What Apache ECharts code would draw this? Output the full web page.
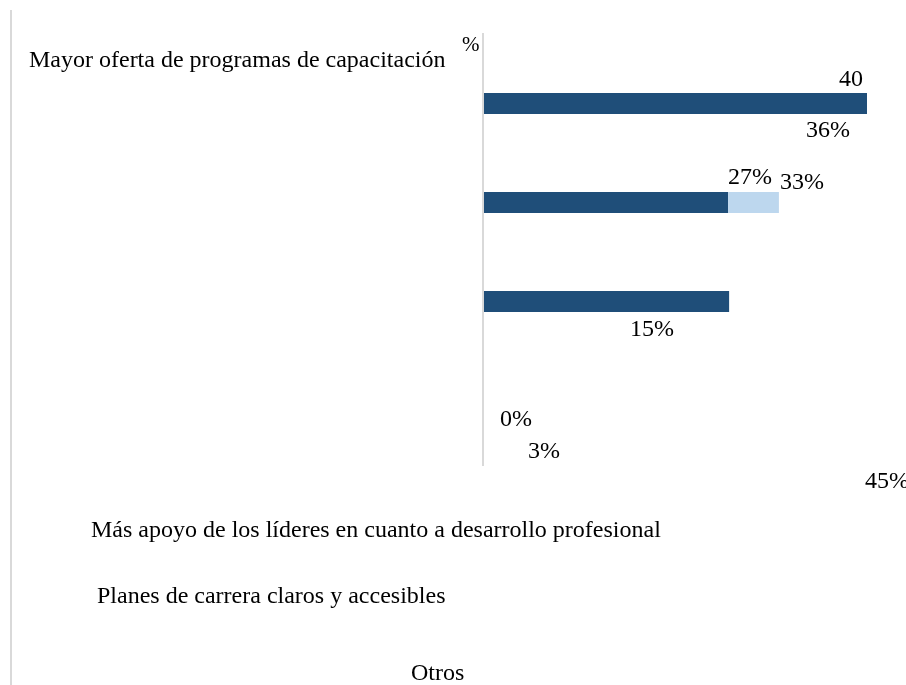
<!DOCTYPE html>
<html>
<head>
<meta charset="utf-8">
<script src="https://cdn.jsdelivr.net/npm/echarts@6/dist/echarts.min.js"></script>
<style>
  html, body { margin: 0; padding: 0; background: #fff; }
  #chart { width: 906px; height: 685px; }
</style>
</head>
<body>
<div id="chart"></div>
<script>
var categories = [
  "Mayor oferta de programas de capacitación",
  "Más apoyo de los líderes en cuanto a desarrollo profesional",
  "Planes de carrera claros y accesibles",
  "Otros",
];
// bar lengths (axis 0..40)
var darkValues = [40, 25.5, 25.6, 0];
var lightValues = [0, 5.3, 0, 0];
// loose texts as they appear in the picture
var stray = ["%", "40", "36%", "27%", "33%", "15%", "0%", "3%", "45%"];

var font = "Liberation Serif";
var chart = echarts.init(document.getElementById("chart"));

function txt(s, x, y, size) {
  return {
    type: "text",
    left: x,
    top: y,
    style: {
      text: s,
      fill: "#000",
      font: (size || 24) + "px '" + font + "'",
    },
  };
}

var option = {
  animation: false,
  grid: {
    left: 484,
    right: 39,
    top: 54,
    height: 396,
  },
  xAxis: {
    type: "value",
    min: 0,
    max: 40,
    show: false,
  },
  yAxis: {
    type: "category",
    inverse: true,
    data: categories,
    axisLine: { show: false },
    axisTick: { show: false },
    axisLabel: { show: false },
  },
  series: [
    {
      name: "dark",
      type: "bar",
      stack: "a",
      barWidth: 21,
      itemStyle: { color: "#1F4E79" },
      data: darkValues,
    },
    {
      name: "light",
      type: "bar",
      stack: "a",
      barWidth: 21,
      itemStyle: { color: "#BDD7EE" },
      data: lightValues,
    },
  ],
  graphic: [
    // frame line on the left and the category axis line
    {
      type: "line",
      shape: { x1: 11, y1: 10, x2: 11, y2: 685 },
      style: { stroke: "#d9d9d9", lineWidth: 2 },
    },
    {
      type: "line",
      shape: { x1: 483, y1: 33, x2: 483, y2: 466 },
      style: { stroke: "#d9d9d9", lineWidth: 2 },
    },
    // category names, scattered like in the picture
    txt(categories[0], 29, 49),
    txt(categories[1], 91, 519),
    txt(categories[2], 97, 585),
    txt(categories[3], 411, 662),
    // value texts
    txt(stray[0], 462, 35, 21),
    txt(stray[1], 839, 68),
    txt(stray[2], 806, 119),
    txt(stray[3], 728, 166),
    txt(stray[4], 780, 171),
    txt(stray[5], 630, 318),
    txt(stray[6], 500, 408),
    txt(stray[7], 528, 440),
    txt(stray[8], 865, 470),
  ],
};

chart.setOption(option);
</script>
</body>
</html>
